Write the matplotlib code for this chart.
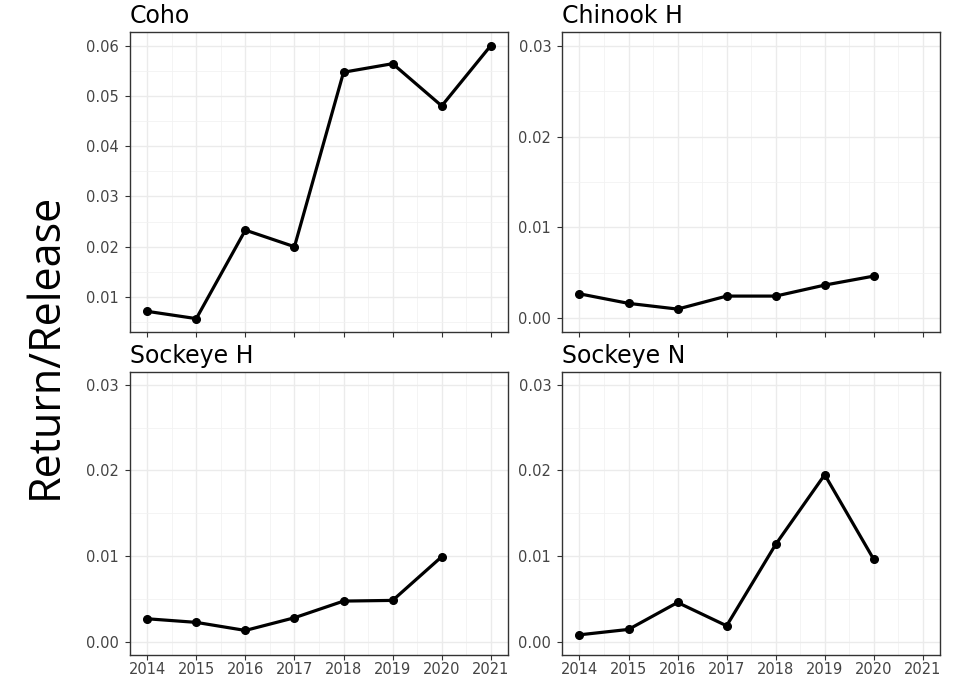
import matplotlib
matplotlib.use("Agg")
import matplotlib.pyplot as plt
from matplotlib.ticker import FixedLocator

years = [2014, 2015, 2016, 2017, 2018, 2019, 2020, 2021]

coho = [0.00715, 0.0057, 0.0233, 0.0200, 0.0547, 0.0564, 0.0480, 0.0600]
chinook_h = [0.0027, 0.00165, 0.00102, 0.00245, 0.00245, 0.00366, 0.00465]
sockeye_h = [0.00272, 0.0023, 0.00136, 0.00284, 0.00478, 0.00486, 0.00995]
sockeye_n = [0.00085, 0.00148, 0.00462, 0.0019, 0.01138, 0.0195, 0.00963]

titles = ["Coho", "Chinook H", "Sockeye H", "Sockeye N"]
series = [coho, chinook_h, sockeye_h, sockeye_n]
ylabel = "Return/Release"

W, H = 958, 675
fig = plt.figure(figsize=(W / 100, H / 100), dpi=100)

def rect(x0, y0, x1, y1):
    return [x0 / W, 1 - y1 / H, (x1 - x0) / W, (y1 - y0) / H]

rects = [
    rect(130, 32, 508, 332),
    rect(562.3, 32, 940, 332),
    rect(130, 371.7, 508, 655),
    rect(562.3, 371.7, 940, 655),
]

for i, (r, title, vals) in enumerate(zip(rects, titles, series)):
    ax = fig.add_axes(r)
    ax.set_facecolor("white")
    yrs = years[:len(vals)]
    ax.plot(yrs, vals, color="black", lw=2.3, marker="o", ms=5.5, zorder=3,
            solid_joinstyle="round")
    ax.set_xlim(2013.65, 2021.35)
    if i == 0:
        ax.set_ylim(0.00304, 0.0627)
        ax.yaxis.set_major_locator(FixedLocator([0.01, 0.02, 0.03, 0.04, 0.05, 0.06]))
        ax.yaxis.set_minor_locator(FixedLocator([0.005, 0.015, 0.025, 0.035, 0.045, 0.055]))
        ax.set_yticklabels(["0.01", "0.02", "0.03", "0.04", "0.05", "0.06"])
    else:
        ax.set_ylim(-0.0015, 0.0315)
        ax.yaxis.set_major_locator(FixedLocator([0.0, 0.01, 0.02, 0.03]))
        ax.yaxis.set_minor_locator(FixedLocator([0.005, 0.015, 0.025]))
        ax.set_yticklabels(["0.00", "0.01", "0.02", "0.03"])
    ax.xaxis.set_major_locator(FixedLocator(years))
    ax.xaxis.set_minor_locator(FixedLocator([y + 0.5 for y in years[:-1]]))
    if i >= 2:
        ax.set_xticklabels([str(y) for y in years])
    else:
        ax.set_xticklabels([])
    ax.grid(which="major", color="#EBEBEB", lw=1.0, zorder=0)
    ax.grid(which="minor", color="#F2F2F2", lw=0.6, zorder=0)
    ax.set_axisbelow(True)
    for s in ax.spines.values():
        s.set_color("#333333")
        s.set_linewidth(1.0)
    ax.tick_params(which="major", length=3.5, width=0.8, color="#333333",
                   labelcolor="#444444", labelsize=10.5)
    ax.tick_params(axis="y", pad=4.5)
    ax.tick_params(axis="x", pad=1.5)
    ax.tick_params(which="minor", length=0)
    for lab in ax.get_xticklabels() + ax.get_yticklabels():
        lab.set_family("DejaVu Sans")
    ax.set_title(title, loc="left", fontsize=17, family="DejaVu Sans",
                 color="black", pad=6.3)

fig.text(46 / W, 1 - 346 / H, ylabel,
         rotation=90, ha="center", va="center", fontsize=31,
         family=["Open Sans", "DejaVu Sans"], color="black")

fig.savefig("out.png", dpi=100, facecolor="white")
